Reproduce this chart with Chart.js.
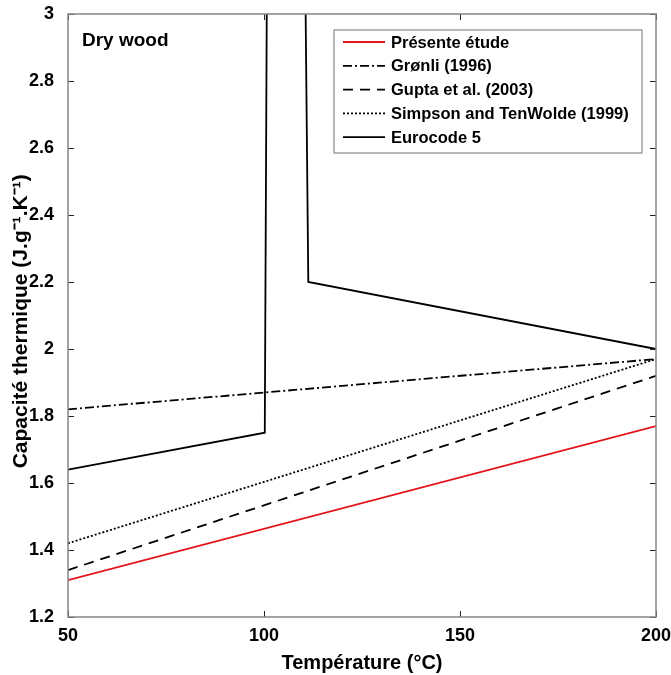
<!DOCTYPE html>
<html>
<head>
<meta charset="utf-8">
<script src="https://cdn.jsdelivr.net/npm/chart.js@4"></script>
<style>
  html, body { margin: 0; padding: 0; background: #fff; }
  canvas { display: block; }
</style>
</head>
<body>
<canvas id="cpChart" width="671" height="675"></canvas>
<script>
// Données
const temps = [50, 200];
const presenteEtude = [1.31, 1.77];
const gronli = [1.82, 1.97];
const gupta = [1.34, 1.92];
const simpson = [1.42, 1.97];

const eurocodeTemps = [50, 100.2, 100.9, 110.2, 111.3, 200];
const eurocodeCp = [1.64, 1.75, 3.5, 3.5, 2.2, 2.0];

const xTicks = [50, 100, 150, 200];
const yTicks = [1.2, 1.4, 1.6, 1.8, 2, 2.2, 2.4, 2.6, 2.8, 3];

const seriesLabels = ['Présente étude', 'Grønli (1996)', 'Gupta et al. (2003)', 'Simpson and TenWolde (1999)', 'Eurocode 5'];

const FONT = '"Liberation Sans", Arial, sans-serif';

function toPoints(xs, ys) {
    return xs.map((x, i) => ({ x: x, y: ys[i] }));
}

function lineDataset(label, xs, ys, color, dash, width) {
    return {
        label: label,
        data: toPoints(xs, ys),
        borderColor: color,
        backgroundColor: color,
        borderWidth: width,
        borderDash: dash,
        pointRadius: 0,
        tension: 0,
        fill: false,
        clip: 0
    };
}

// Cadre, graduations intérieures, légende et texte "Dry wood"
const framePlugin = {
    id: 'frame',
    afterDraw(chart) {
        const ctx = chart.ctx;
        const a = chart.chartArea;
        const xs = chart.scales.x;
        const ys = chart.scales.y;
        ctx.save();

        // graduations vers l'intérieur
        ctx.strokeStyle = '#222';
        ctx.lineWidth = 1;
        ctx.beginPath();
        xTicks.forEach(t => {
            const px = Math.round(xs.getPixelForValue(t)) + 0.5;
            ctx.moveTo(px, a.bottom); ctx.lineTo(px, a.bottom - 6);
            ctx.moveTo(px, a.top); ctx.lineTo(px, a.top + 6);
        });
        yTicks.forEach(t => {
            const py = Math.round(ys.getPixelForValue(t)) + 0.5;
            ctx.moveTo(a.left, py); ctx.lineTo(a.left + 6, py);
            ctx.moveTo(a.right, py); ctx.lineTo(a.right - 6, py);
        });
        ctx.stroke();

        // cadre
        ctx.strokeStyle = '#858585';
        ctx.lineWidth = 1.5;
        ctx.strokeRect(a.left, a.top, a.right - a.left, a.bottom - a.top);

        // texte
        ctx.fillStyle = '#000';
        ctx.font = 'bold 19px ' + FONT;
        ctx.textBaseline = 'middle';
        ctx.textAlign = 'left';
        ctx.fillText('Dry wood', 82, 41);

        // légende
        const lx = 334, ly = 30, lw = 308, lh = 123;
        ctx.fillStyle = '#fff';
        ctx.fillRect(lx, ly, lw, lh);
        ctx.strokeStyle = '#8a8a8a';
        ctx.lineWidth = 1.2;
        ctx.strokeRect(lx, ly, lw, lh);
        ctx.font = 'bold 16.5px ' + FONT;
        chart.data.datasets.forEach((ds, i) => {
            const y = ly + 12 + i * 23.8;
            ctx.strokeStyle = ds.borderColor;
            ctx.lineWidth = ds.borderWidth;
            ctx.setLineDash(ds.borderDash || []);
            ctx.beginPath();
            ctx.moveTo(lx + 9, y);
            ctx.lineTo(lx + 51, y);
            ctx.stroke();
            ctx.setLineDash([]);
            ctx.fillStyle = '#000';
            ctx.fillText(ds.label, lx + 57, y + 1);
        });
        ctx.restore();
    }
};

const ctx = document.getElementById('cpChart').getContext('2d');

new Chart(ctx, {
    type: 'line',
    data: {
        datasets: [
            lineDataset(seriesLabels[0], temps, presenteEtude, '#e3131b', [], 1.8),
            lineDataset(seriesLabels[1], temps, gronli, '#000', [9, 3, 2, 3], 1.8),
            lineDataset(seriesLabels[2], temps, gupta, '#000', [10, 7], 1.8),
            lineDataset(seriesLabels[3], temps, simpson, '#000', [2, 2], 1.8),
            lineDataset(seriesLabels[4], eurocodeTemps, eurocodeCp, '#000', [], 1.8)
        ]
    },
    options: {
        responsive: false,
        animation: false,
        layout: {
            padding: { left: 0, top: 14, right: 15, bottom: 0 }
        },
        plugins: {
            legend: { display: false },
            tooltip: { enabled: false }
        },
        scales: {
            x: {
                type: 'linear',
                min: 50,
                max: 200,
                afterBuildTicks: scale => { scale.ticks = xTicks.map(v => ({ value: v })); },
                afterFit: scale => {
                    scale.height = 58;
                    scale.paddingLeft = 0;
                    scale.paddingRight = 0;
                },
                grid: { display: false, drawTicks: false },
                border: { display: false },
                ticks: {
                    color: '#000',
                    padding: 8,
                    font: { family: FONT, size: 18, weight: 'bold' }
                },
                title: {
                    display: true,
                    text: 'Température (°C)',
                    color: '#000',
                    padding: { top: 2, bottom: 0 },
                    font: { family: FONT, size: 20, weight: 'bold' }
                }
            },
            y: {
                min: 1.2,
                max: 3,
                afterBuildTicks: scale => { scale.ticks = yTicks.map(v => ({ value: v })); },
                afterFit: scale => {
                    scale.width = 68;
                    scale.paddingTop = 0;
                    scale.paddingBottom = 0;
                },
                grid: { display: false, drawTicks: false },
                border: { display: false },
                ticks: {
                    color: '#000',
                    padding: 14,
                    font: { family: FONT, size: 18, weight: 'bold' },
                    callback: v => String(Number(v.toFixed(1)))
                },
                title: {
                    display: true,
                    text: 'Capacité thermique (J.g⁻¹.K⁻¹)  ',
                    color: '#000',
                    padding: { top: 9, bottom: 0 },
                    font: { family: FONT, size: 21, weight: 'bold' }
                }
            }
        }
    },
    plugins: [framePlugin]
});
</script>
</body>
</html>
